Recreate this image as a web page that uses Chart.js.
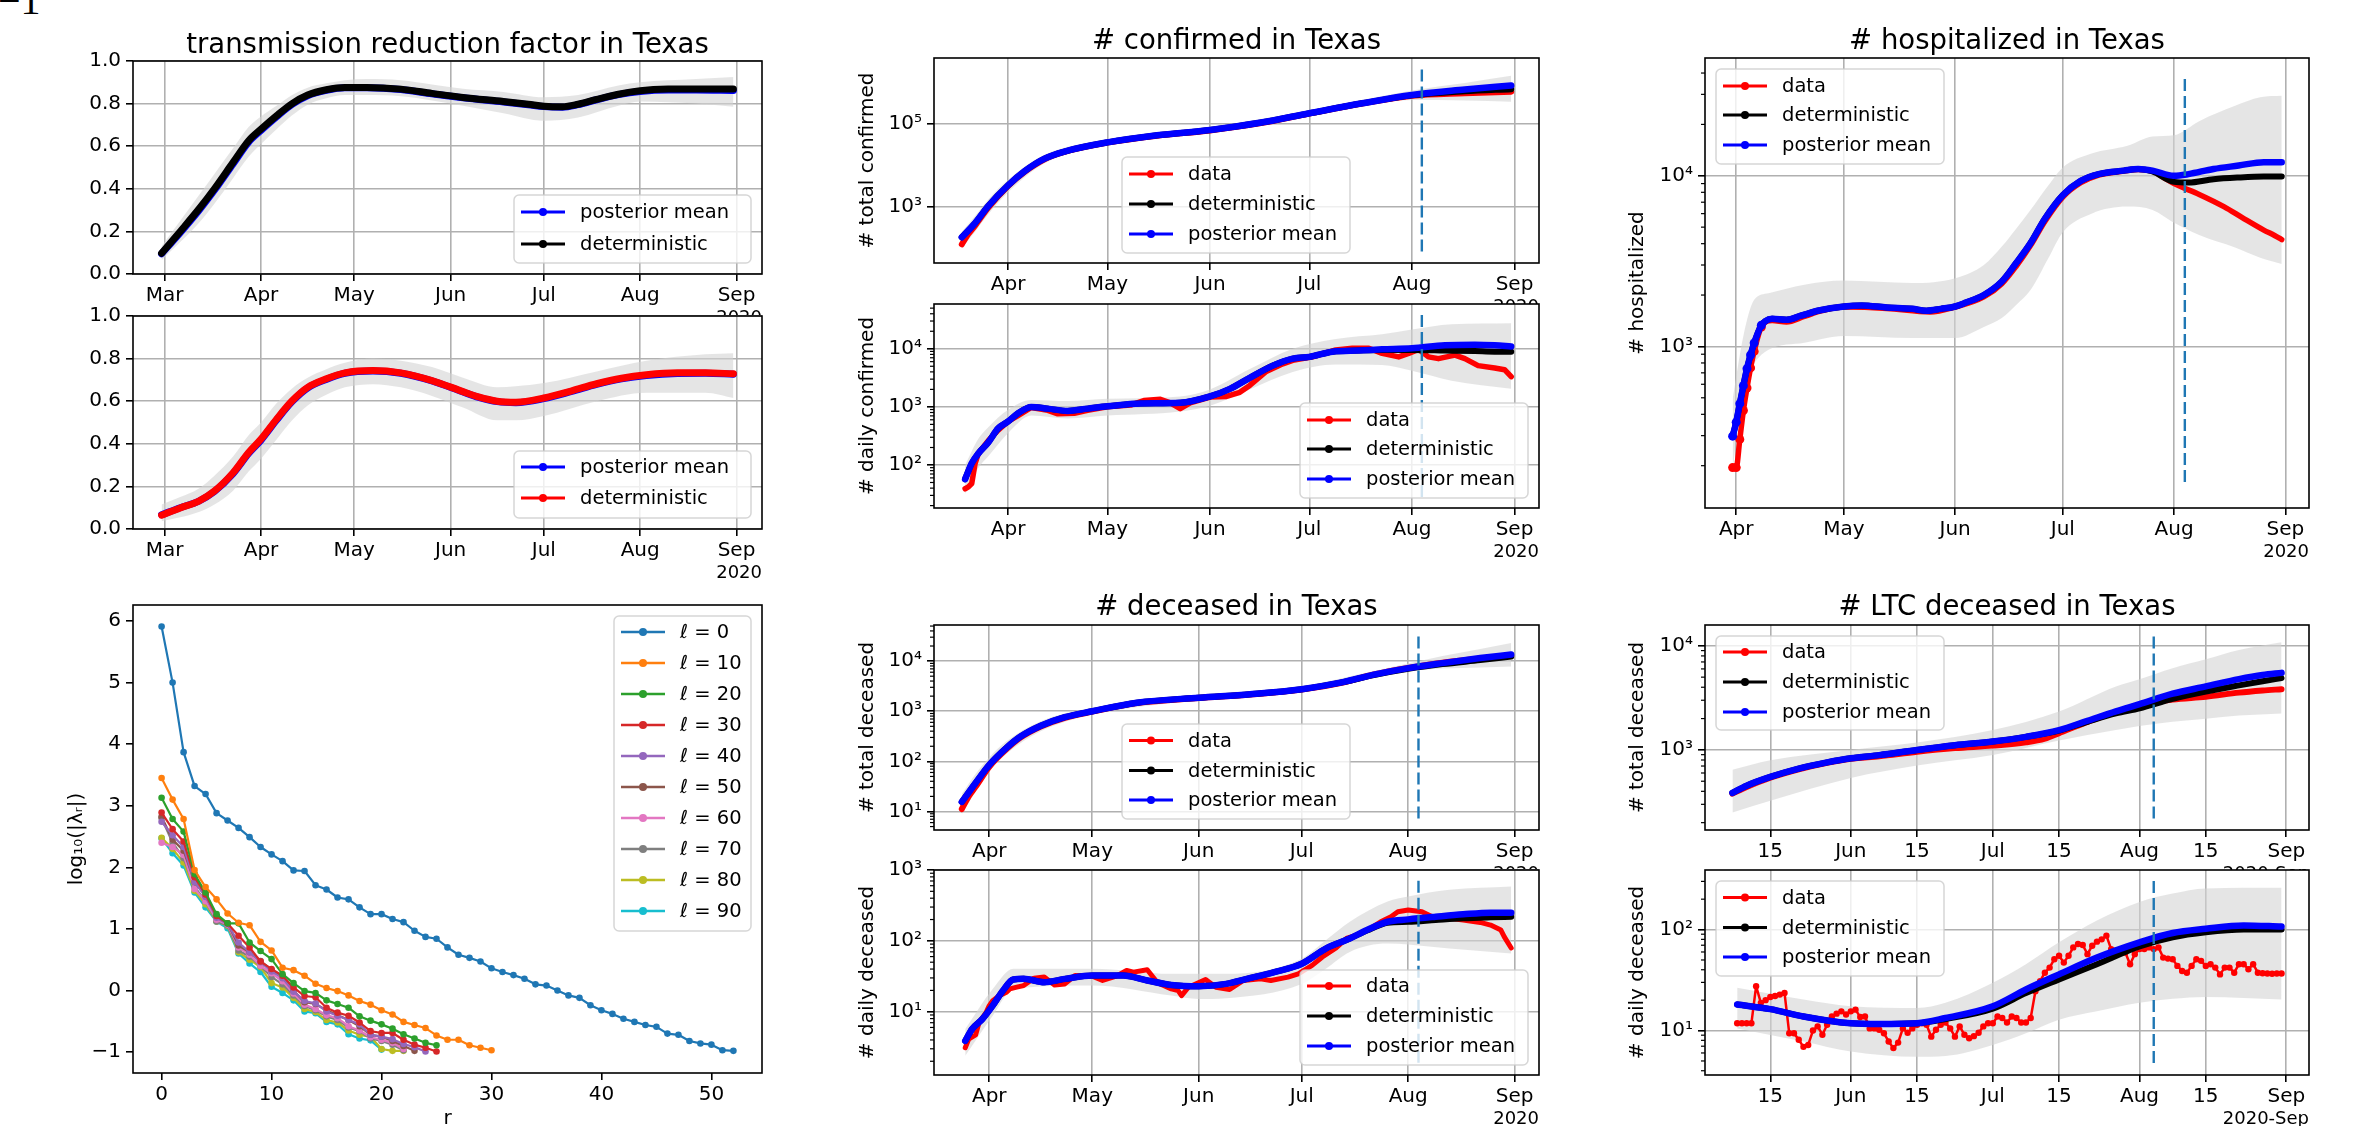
<!DOCTYPE html>
<html>
<head>
<meta charset="utf-8">
<script src="https://cdn.jsdelivr.net/npm/chart.js@4.4.1/dist/chart.umd.min.js"></script>
<style>
  body { margin: 0; background: #fff; width: 2356px; height: 1126px; overflow: hidden; position: relative; }
  canvas { position: absolute; }
  .eqno { position: absolute; left: -2px; top: -19px; font-family: "Liberation Serif", serif; font-size: 40px; line-height: 40px; }
</style>
</head>
<body>
<div class="eqno">−1</div>
<script>
// ---- transmission reduction factor (top) ----
const trfDays = [-1, 5, 11, 16, 22, 27, 31, 36, 41, 46, 52, 58, 65, 76, 86, 96, 109, 117, 122, 128, 133, 139, 146, 153, 162, 171, 183];
const trfDet  = [0.097, 0.20, 0.305, 0.40, 0.524, 0.626, 0.68, 0.743, 0.80, 0.84, 0.865, 0.876, 0.876, 0.868, 0.848, 0.829, 0.81, 0.797, 0.788, 0.785, 0.797, 0.82, 0.844, 0.86, 0.868, 0.869, 0.869];
const trfPost = [0.095, 0.194, 0.298, 0.393, 0.517, 0.619, 0.674, 0.738, 0.796, 0.837, 0.862, 0.874, 0.874, 0.866, 0.846, 0.827, 0.808, 0.795, 0.786, 0.783, 0.795, 0.818, 0.842, 0.857, 0.864, 0.864, 0.862];
const trfBandDays = [-1, 5, 11, 16, 22, 27, 31, 36, 41, 46, 52, 58, 65, 76, 86, 96, 109, 122, 133, 146, 153, 171, 183];
const trfHi = [0.13, 0.25, 0.37, 0.47, 0.59, 0.69, 0.74, 0.79, 0.84, 0.875, 0.895, 0.91, 0.915, 0.91, 0.89, 0.87, 0.855, 0.83, 0.84, 0.885, 0.90, 0.915, 0.925];
const trfLo = [0.065, 0.15, 0.24, 0.33, 0.45, 0.55, 0.61, 0.68, 0.745, 0.795, 0.825, 0.84, 0.84, 0.835, 0.815, 0.79, 0.755, 0.72, 0.735, 0.79, 0.81, 0.80, 0.785];

// ---- transmission reduction factor (bottom) ----
const trf2Days = [-1, 5, 11, 16, 22, 27, 31, 36, 41, 46, 52, 58, 67, 76, 86, 96, 101, 107, 113, 122, 131, 139, 147, 155, 165, 174, 183];
const trf2Det  = [0.065, 0.099, 0.131, 0.178, 0.264, 0.359, 0.422, 0.516, 0.602, 0.665, 0.705, 0.733, 0.744, 0.733, 0.697, 0.645, 0.62, 0.60, 0.595, 0.615, 0.649, 0.682, 0.708, 0.724, 0.733, 0.733, 0.729];
const trf2Post = [0.067, 0.10, 0.131, 0.176, 0.26, 0.354, 0.417, 0.511, 0.598, 0.662, 0.702, 0.731, 0.742, 0.731, 0.695, 0.643, 0.618, 0.598, 0.593, 0.612, 0.646, 0.679, 0.705, 0.721, 0.73, 0.731, 0.727];
const trf2BandDays = [-1, 5, 11, 16, 22, 27, 31, 36, 41, 46, 52, 58, 67, 76, 86, 96, 107, 113, 122, 139, 155, 174, 183];
const trf2Hi = [0.115, 0.15, 0.19, 0.25, 0.34, 0.44, 0.50, 0.59, 0.66, 0.71, 0.75, 0.78, 0.80, 0.79, 0.76, 0.71, 0.665, 0.67, 0.685, 0.74, 0.79, 0.82, 0.825];
const trf2Lo = [0.036, 0.055, 0.08, 0.115, 0.18, 0.27, 0.33, 0.42, 0.51, 0.58, 0.63, 0.665, 0.68, 0.665, 0.625, 0.57, 0.51, 0.51, 0.53, 0.60, 0.64, 0.64, 0.615];

// ---- eigenvalue decay, log10(|lambda_r|) for r = 0, 1, 2, ... ----
const eigLabels = ['ℓ = 0', 'ℓ = 10', 'ℓ = 20', 'ℓ = 30', 'ℓ = 40', 'ℓ = 50', 'ℓ = 60', 'ℓ = 70', 'ℓ = 80', 'ℓ = 90'];
const eig0  = [5.91, 5.0, 3.87, 3.32, 3.19, 2.88, 2.76, 2.64, 2.49, 2.33, 2.21, 2.10, 1.95, 1.94, 1.71, 1.64, 1.51, 1.48, 1.35, 1.24, 1.24, 1.16, 1.11, 0.97, 0.87, 0.84, 0.70, 0.58, 0.53, 0.47, 0.36, 0.30, 0.25, 0.19, 0.10, 0.08, 0.00, -0.08, -0.12, -0.24, -0.32, -0.38, -0.46, -0.51, -0.56, -0.59, -0.70, -0.72, -0.82, -0.86, -0.88, -0.97, -0.98];
const eig10 = [3.45, 3.10, 2.785, 1.955, 1.68, 1.48, 1.25, 1.10, 1.06, 0.79, 0.65, 0.37, 0.33, 0.24, 0.11, 0.04, -0.01, -0.08, -0.17, -0.23, -0.32, -0.39, -0.51, -0.56, -0.61, -0.73, -0.80, -0.80, -0.89, -0.93, -0.97];
const eig20 = [3.13, 2.785, 2.58, 1.89, 1.59, 1.24, 1.09, 1.09, 0.78, 0.64, 0.51, 0.265, 0.12, -0.01, -0.04, -0.16, -0.22, -0.28, -0.42, -0.49, -0.55, -0.62, -0.71, -0.78, -0.85, -0.89];
const eig30 = [2.89, 2.62, 2.42, 1.84, 1.56, 1.21, 1.09, 0.89, 0.70, 0.47, 0.35, 0.24, 0.05, -0.09, -0.11, -0.28, -0.36, -0.41, -0.52, -0.66, -0.69, -0.69, -0.80, -0.88, -0.93, -0.99];
const eig40 = [2.74, 2.52, 2.33, 1.76, 1.52, 1.18, 1.08, 0.78, 0.62, 0.46, 0.31, 0.20, -0.02, -0.17, -0.21, -0.34, -0.41, -0.48, -0.55, -0.72, -0.75, -0.79, -0.87, -0.92, -0.99];
const eig50 = [2.82, 2.45, 2.27, 1.76, 1.54, 1.20, 1.09, 0.73, 0.62, 0.48, 0.33, 0.22, 0.00, -0.19, -0.22, -0.32, -0.40, -0.48, -0.58, -0.72, -0.75, -0.82, -0.90, -0.98];
const eig60 = [2.40, 2.33, 2.20, 1.65, 1.45, 1.15, 1.07, 0.70, 0.58, 0.40, 0.28, 0.15, -0.05, -0.23, -0.30, -0.40, -0.45, -0.58, -0.65, -0.76, -0.80, -0.85, -0.95];
const eig70 = [2.80, 2.40, 2.15, 1.68, 1.45, 1.12, 1.06, 0.65, 0.55, 0.40, 0.22, 0.10, -0.08, -0.25, -0.32, -0.42, -0.48, -0.60, -0.66, -0.78, -0.82, -0.88, -0.97];
const eig80 = [2.48, 2.30, 2.08, 1.62, 1.40, 1.12, 1.05, 0.62, 0.50, 0.38, 0.12, 0.05, -0.12, -0.30, -0.35, -0.48, -0.52, -0.65, -0.72, -0.75, -0.95, -0.98, -0.98];
const eig90 = [2.47, 2.23, 2.03, 1.59, 1.35, 1.12, 1.01, 0.60, 0.44, 0.30, 0.06, -0.04, -0.16, -0.34, -0.37, -0.51, -0.55, -0.71, -0.78, -0.81, -0.96];
const eigColors = ['#1f77b4', '#ff7f0e', '#2ca02c', '#d62728', '#9467bd', '#8c564b', '#e377c2', '#7f7f7f', '#bcbd22', '#17becf'];

// ---- total confirmed ----
const confDays = [17, 21, 25, 31, 36, 42, 48, 61, 76, 92, 107, 122, 138, 153, 169, 183];
const confPost = [186, 407, 1050, 3310, 7240, 14450, 21400, 35500, 52500, 70800, 105000, 178000, 309000, 490000, 661000, 832000];
const confDet  = [186, 407, 1050, 3310, 7240, 14450, 21400, 35500, 52500, 70800, 105000, 178000, 309000, 480000, 600000, 676000];
const confDataDays = [17, 19, 21, 25, 31, 36, 42, 48, 61, 76, 92, 107, 122, 138, 153, 169, 183];
const confData = [126, 224, 355, 960, 3200, 7000, 14000, 21000, 35000, 51500, 69000, 102000, 175000, 305000, 470000, 540000, 589000];
const confBandDays = [17, 21, 25, 31, 42, 61, 92, 122, 153, 169, 183];
const confHi = [251, 603, 1510, 4470, 17800, 41700, 83200, 209000, 631000, 955000, 1413000];
const confLo = [100, 251, 661, 2240, 11200, 29500, 60300, 148000, 372000, 363000, 339000];

// ---- daily confirmed ----
const dcDays = [18, 19, 20, 22, 25, 28, 31, 34, 38, 43, 49, 55, 61, 71, 83, 92, 98, 104, 111, 117, 122, 129, 137, 144, 153, 163, 172, 178, 183];
const dcPost = [57, 79, 107, 158, 245, 427, 562, 776, 1000, 933, 851, 933, 1023, 1148, 1175, 1514, 2042, 3162, 5129, 6761, 7244, 8913, 9333, 9772, 10230, 11480, 11750, 11480, 10960];
const dcDet  = [57, 79, 107, 158, 245, 427, 562, 776, 1000, 933, 851, 933, 1023, 1148, 1175, 1514, 2042, 3162, 5129, 6761, 7244, 8913, 9333, 9550, 9550, 9330, 9120, 8910, 8910];
const dcDataDays = [18, 19, 20, 21, 22, 25, 28, 31, 34, 38, 43, 46, 51, 55, 61, 68, 72, 77, 80, 83, 86, 92, 97, 101, 104, 109, 114, 117, 123, 130, 135, 140, 144, 149, 152, 155, 158, 161, 166, 169, 173, 178, 181, 183];
const dcData = [39, 42, 48, 105, 158, 263, 398, 562, 708, 977, 871, 759, 776, 871, 1000, 1072, 1288, 1349, 1175, 933, 1175, 1479, 1514, 1778, 2344, 4074, 5495, 6310, 7244, 9550, 10230, 10230, 8318, 7244, 8318, 9772, 7244, 6761, 7762, 6761, 5129, 4677, 4365, 3311];
const dcBandDays = [18, 22, 25, 31, 38, 49, 61, 83, 92, 104, 117, 130, 144, 153, 165, 183];
const dcHi = [100, 282, 447, 891, 1318, 1259, 1380, 1514, 1995, 4467, 10000, 14790, 17780, 21380, 26300, 27540];
const dcLo = [32, 89, 141, 355, 708, 631, 708, 832, 1047, 1995, 3981, 5370, 5248, 4169, 2818, 2042];

// ---- total deceased ----
const decDays = [23, 27, 31, 36, 40, 46, 53, 61, 74, 92, 107, 122, 134, 143, 153, 163, 174, 183];
const decPost = [15.5, 37, 85, 186, 309, 513, 759, 1000, 1479, 1862, 2188, 2754, 3802, 5370, 7244, 9120, 11480, 13490];
const decDet  = [15.5, 37, 85, 186, 309, 513, 759, 1000, 1479, 1862, 2188, 2754, 3802, 5250, 7000, 8710, 10470, 12300];
const decDataDays = [23, 25, 27, 31, 36, 40, 46, 53, 61, 74, 92, 107, 122, 134, 143, 153, 163, 174, 183];
const decData = [11.2, 20, 31, 78, 175, 295, 495, 740, 980, 1450, 1830, 2150, 2700, 3750, 5400, 7300, 9330, 11220, 12880];
const decBandDays = [23, 27, 31, 36, 46, 61, 92, 122, 143, 153, 163, 174, 183];
const decHi = [22.4, 56.2, 120, 251, 631, 1175, 2138, 3162, 6310, 8913, 12590, 17380, 22910];
const decLo = [8.9, 25.1, 63.1, 141, 398, 851, 1660, 2399, 4677, 6310, 7079, 7413, 7762];

// ---- daily deceased ----
const ddDays = [24, 26, 29, 32, 35, 38, 41, 47, 53, 61, 70, 77, 84, 92, 100, 106, 114, 122, 129, 136, 141, 147, 153, 161, 169, 177, 183];
const ddPost = [3.87, 5.7, 7.9, 12.2, 19.9, 28.5, 29.1, 26.1, 29.1, 32.5, 32.5, 27.6, 23.9, 22.9, 24.7, 29.1, 36.2, 47.6, 77.8, 108, 142, 186, 201, 219, 237, 250, 250];
const ddDet  = [3.87, 5.7, 7.9, 12.2, 19.9, 28.5, 29.1, 26.1, 29.1, 32.5, 32.5, 27.6, 23.9, 22.9, 24.7, 29.1, 36.2, 47.6, 77.8, 108, 140, 180, 186, 197, 208, 215, 219];
const ddDataDays = [24, 25, 27, 28, 30, 31, 32, 34, 36, 37, 39, 41, 44, 47, 50, 53, 56, 61, 64, 68, 71, 73, 77, 80, 84, 86, 87, 89, 94, 97, 101, 105, 110, 113, 118, 121, 125, 128, 132, 135, 138, 142, 145, 148, 150, 153, 157, 160, 165, 169, 174, 177, 180, 181, 183];
const ddData = [3.1, 4.1, 4.7, 7.0, 9.6, 12.2, 14.3, 16.9, 18.8, 21, 22.2, 23.4, 29.8, 30.8, 23.9, 24.7, 32.5, 31.8, 27.6, 31.8, 38.3, 36.2, 39.1, 25.6, 21, 19.9, 16.9, 22.2, 28.5, 22.2, 20.6, 27.6, 29.1, 27.6, 30.8, 34.3, 45.1, 59.3, 79.4, 108, 120, 150, 186, 219, 258, 273, 258, 219, 208, 197, 182, 167, 142, 114, 79.4];
const ddBandDays = [24, 32, 38, 61, 84, 92, 100, 122, 129, 136, 147, 153, 165, 183];
const ddHi = [5.7, 21, 40.5, 40.5, 34.3, 34.3, 34.3, 56.1, 102, 186, 359, 423, 525, 586];
const ddLo = [2.4, 8.8, 21, 23.4, 16.9, 15.1, 15.5, 24.7, 40.5, 69.8, 91.6, 88.8, 77.8, 66.1];

// ---- hospitalized ----
const hospDays = [30, 31, 32, 33, 34, 35, 36, 38, 39, 41, 45, 49, 54, 61, 66, 73, 80, 84, 88, 92, 95, 100, 105, 109, 113, 117, 122, 127, 132, 139, 143, 147, 153, 157, 164, 171, 178, 183];
const hospPost = [298, 360, 462, 589, 741, 891, 1047, 1330, 1400, 1452, 1432, 1513, 1623, 1714, 1738, 1690, 1660, 1618, 1660, 1714, 1807, 2000, 2400, 3080, 4030, 5600, 7700, 9333, 10230, 10720, 10960, 10720, 10000, 10230, 10960, 11480, 12020, 12020];
const hospDet  = [298, 360, 462, 589, 741, 891, 1047, 1330, 1400, 1452, 1432, 1513, 1623, 1714, 1738, 1690, 1660, 1618, 1660, 1714, 1807, 2000, 2400, 3080, 4030, 5600, 7700, 9333, 10230, 10720, 10960, 10600, 9210, 9120, 9550, 9770, 9890, 9890];
const hospDataDays = [30, 31, 32, 33, 34, 35, 36, 38, 41, 45, 50, 55, 61, 73, 85, 92, 100, 105, 109, 113, 117, 122, 127, 132, 139, 143, 147, 150, 153, 160, 167, 172, 178, 181, 183];
const hospData = [195, 195, 285, 421, 571, 748, 935, 1300, 1420, 1390, 1500, 1620, 1700, 1670, 1590, 1700, 1950, 2330, 2950, 3900, 5400, 7500, 9100, 10100, 10650, 10900, 10650, 9800, 8990, 7780, 6577, 5690, 4808, 4467, 4227];
const hospBandDays = [30, 33, 36, 40, 50, 61, 80, 92, 100, 105, 109, 113, 118, 122, 130, 140, 147, 153, 160, 170, 177, 183];
const hospHi = [490, 1150, 1875, 2050, 2300, 2430, 2350, 2510, 3000, 3850, 4900, 6300, 8800, 11200, 13500, 15000, 17000, 17300, 20900, 25700, 28840, 29400];
const hospLo = [182, 616, 800, 955, 1050, 1150, 1120, 1120, 1300, 1466, 1750, 2140, 3300, 4670, 6000, 6600, 6300, 5300, 4500, 3800, 3311, 3040];

// ---- LTC total deceased ----
const ltcDays = [67, 70, 75, 81, 87, 92, 98, 106, 114, 122, 129, 136, 142, 148, 153, 160, 167, 174, 179, 183];
const ltcPost = [386, 453, 550, 661, 759, 832, 891, 1000, 1109, 1202, 1334, 1549, 1905, 2344, 2754, 3467, 4074, 4786, 5248, 5495];
const ltcDet  = [386, 453, 550, 661, 759, 832, 891, 1000, 1109, 1202, 1334, 1530, 1862, 2239, 2512, 3090, 3631, 4169, 4571, 4900];
const ltcDataDays = [67, 70, 75, 81, 87, 92, 98, 106, 114, 122, 129, 133, 136, 142, 148, 153, 160, 167, 174, 179, 183];
const ltcData = [380, 440, 540, 650, 750, 820, 870, 960, 1040, 1100, 1183, 1282, 1450, 1860, 2300, 2700, 3050, 3240, 3550, 3720, 3830];
const ltcBandDays = [67, 75, 92, 106, 122, 136, 148, 153, 160, 167, 174, 183];
const ltcHi = [646, 794, 1000, 1175, 1549, 2344, 4074, 4786, 6095, 7413, 9120, 10840];
const ltcLo = [251, 324, 537, 708, 891, 1230, 1549, 1698, 1862, 1995, 2138, 2239];

// ---- LTC daily deceased ----
const ltcdDays = [68, 75, 82, 92, 98, 106, 112, 122, 129, 136, 144, 153, 160, 167, 175, 183];
const ltcdPost = [18.1, 16.3, 13.8, 11.8, 11.6, 11.8, 13.3, 17.4, 25.5, 36, 52.8, 74.7, 92.6, 102, 110, 107];
const ltcdDet  = [18.1, 16.3, 13.8, 11.8, 11.6, 11.8, 13.0, 16.5, 23.5, 32.1, 45.4, 68.1, 83.8, 94, 100, 100];
const ltcdDataStart = 68; // one value per day from here
const ltcdData = [11.8, 11.8, 11.8, 11.8, 27.5, 18.8, 20, 21.5, 22, 22.7,
  23.6, 9.4, 9.4, 8.1, 6.9, 7.2, 10, 11, 9.1, 11.4,
  13.8, 14.7, 15.5, 14.4, 15.5, 16.1, 13.6, 13.8, 10.5, 10.5,
  10.2, 9.4, 7.8, 6.7, 7.6, 10.5, 9.5, 10.5, 11.4, 11.8,
  11.4, 8.7, 10.2, 11.4, 12, 10.5, 8.7, 11, 9.1, 8.4,
  8.8, 9.5, 11, 11.8, 11.8, 13.8, 13.3, 12, 13.8, 13.3,
  12, 12, 13.3, 24.5, 30.9, 37.4, 42, 50.9, 55, 47.1,
  55, 66.6, 71.9, 70.3, 57.1, 69.2, 75.9, 80, 87.1, 64.1,
  62, 61.7, 59.3, 45.4, 57.1, 64.1, 64.1, 66.6, 64.1, 66.6,
  52.8, 51.6, 50.9, 43.7, 38.9, 37.4, 43.7, 50.9, 49, 43.7,
  45.4, 42, 36, 42, 42, 37.4, 45.4, 45.4, 40.5, 45.4,
  37.4, 36.9, 36.7, 36.5, 36.7, 36.7];
const ltcdBandDays = [68, 82, 92, 106, 112, 122, 129, 136, 144, 153, 160, 167, 183];
const ltcdHi = [26.5, 20.3, 17.4, 16.7, 18.8, 29.7, 45.4, 74.7, 123, 188, 227, 255, 259];
const ltcdLo = [10.5, 7.8, 6.2, 5.5, 5.6, 7.2, 9.4, 12.8, 15.5, 18.8, 20.6, 21.5, 20.3];

// forecast start marker (Aug 4)
const cutDay = 156;

// ---------------------------------------------------------------
const FONT = '"DejaVu Sans", sans-serif';
const GRID = '#b0b0b0';
const BAND = 'rgba(211,211,211,0.6)';
const RED = '#ff0000', BLACK = '#000000', BLUE = '#0000ff', VCOL = '#1f77b4';
const SUP = {1: '¹', 2: '²', 3: '³', 4: '⁴', 5: '⁵', 6: '⁶'};
const MONTHS = {0: 'Mar', 31: 'Apr', 61: 'May', 92: 'Jun', 122: 'Jul', 153: 'Aug', 184: 'Sep'};
const LTC_TICKS = {75: '15', 92: 'Jun', 106: '15', 122: 'Jul', 136: '15', 153: 'Aug', 167: '15', 184: 'Sep'};
const MONTH_TICKS = [31, 61, 92, 122, 153, 184];

function pow10Label(v) {
  const e = Math.round(Math.log10(v));
  return '10' + SUP[e];
}

function minorTicks(lo, hi) {
  // 2..9 x 10^k between the decades lo and hi
  const out = [];
  for (let k = lo; k <= hi; k++) for (let m = 2; m <= 9; m++) out.push(m * Math.pow(10, k));
  return out;
}

function ds(days, vals, color, width, order, extra) {
  return Object.assign({
    data: vals.map((v, i) => ({x: days[i], y: v})),
    borderColor: color, backgroundColor: color, borderWidth: width,
    pointRadius: 0, fill: false, order: order,
    cubicInterpolationMode: 'monotone',
    borderCapStyle: 'round', borderJoinStyle: 'round'
  }, extra || {});
}

function band(days, lo, hi) {
  return [
    ds(days, lo, 'rgba(0,0,0,0)', 0, 20),
    ds(days, hi, 'rgba(0,0,0,0)', 0, 20, {fill: '-1', backgroundColor: BAND})
  ];
}

function vline(top, bottom) {
  return ds([cutDay, cutDay], [top, bottom], VCOL, 2.4, 0,
    {borderDash: [12, 5], cubicInterpolationMode: 'default', tension: 0, borderCapStyle: 'butt'});
}

// dots only on the first n points (sparse early growth is drawn as separate markers)
function earlyDots(n, color) {
  return {pointRadius: c => (c.dataIndex < n ? 4.5 : 0), pointBorderWidth: 0, pointBackgroundColor: color};
}

function drawLegend(c, L, box) {
  const x0 = L.x0 - box.l, y0 = L.y0 - box.t, w = L.x1 - L.x0, h = L.y1 - L.y0;
  c.save();
  c.beginPath();
  c.roundRect(x0, y0, w, h, 5);
  c.fillStyle = 'rgba(255,255,255,0.8)';
  c.fill();
  c.strokeStyle = 'rgba(204,204,204,0.8)';
  c.lineWidth = 1.5;
  c.stroke();
  c.font = '19.5px ' + FONT;
  c.textBaseline = 'middle';
  c.textAlign = 'left';
  L.items.forEach((it, i) => {
    const y = L.rows[i] - box.t;
    c.strokeStyle = it[1];
    c.fillStyle = it[1];
    c.lineWidth = L.lw || 3;
    c.beginPath();
    c.moveTo(x0 + 7, y);
    c.lineTo(x0 + 51, y);
    c.stroke();
    c.beginPath();
    c.arc(x0 + 29, y, 4, 0, Math.PI * 2);
    c.fill();
    c.fillStyle = '#000';
    c.fillText(it[0], x0 + 66, y + 1);
  });
  c.restore();
}

function panel(p) {
  const box = {
    l: Math.max(0, p.plot.l - 120), t: Math.max(0, p.plot.t - 70),
    r: Math.min(2356, p.plot.r + 14), b: Math.min(1126, p.plot.b + 56)
  };
  const W = box.r - box.l, H = box.b - box.t;
  const cv = document.createElement('canvas');
  cv.width = W; cv.height = H;
  cv.style.left = box.l + 'px'; cv.style.top = box.t + 'px';
  cv.style.width = W + 'px'; cv.style.height = H + 'px';
  document.body.appendChild(cv);

  const deco = {
    id: 'deco',
    beforeDraw(ch) {
      const a = ch.chartArea, c = ch.ctx;
      c.save();
      c.fillStyle = '#fff';
      c.fillRect(a.left, a.top, a.right - a.left, a.bottom - a.top);
      c.restore();
    },
    afterDatasetsDraw(ch) {
      const a = ch.chartArea, c = ch.ctx;
      c.save();
      if (p.minor) {
        const ys = ch.scales.y;
        c.strokeStyle = '#000';
        c.lineWidth = 1.2;
        p.minor.forEach(v => {
          if (v <= ys.min || v >= ys.max) return;
          const y = ys.getPixelForValue(v);
          c.beginPath(); c.moveTo(a.left - 4, y); c.lineTo(a.left, y); c.stroke();
        });
      }
      c.strokeStyle = '#000';
      c.lineWidth = 1.6;
      c.strokeRect(a.left, a.top, a.right - a.left, a.bottom - a.top);
      c.restore();
      if (p.legend) drawLegend(c, p.legend, box);
    },
    afterDraw(ch) {
      const c = ch.ctx;
      c.save();
      c.fillStyle = '#000';
      if (p.title) {
        c.font = '27.5px ' + FONT;
        c.textAlign = 'center'; c.textBaseline = 'alphabetic';
        c.fillText(p.title, (p.plot.l + p.plot.r) / 2 - box.l, p.titleY - box.t);
      }
      if (p.offset) {
        c.font = '18px ' + FONT;
        c.textAlign = 'right'; c.textBaseline = 'alphabetic';
        c.fillText(p.offset, p.plot.r - box.l, p.plot.b + 49 - box.t);
      }
      if (p.xlabel) {
        c.font = '20px ' + FONT;
        c.textAlign = 'center'; c.textBaseline = 'alphabetic';
        c.fillText(p.xlabel, (p.plot.l + p.plot.r) / 2 - box.l, p.xlabelY - box.t);
      }
      if (p.ylabel) {
        c.font = '20px ' + FONT;
        c.translate(p.ylabelX - box.l, (p.plot.t + p.plot.b) / 2 - box.t);
        c.rotate(-Math.PI / 2);
        c.textAlign = 'center'; c.textBaseline = 'middle';
        c.fillText(p.ylabel, 0, 0);
      }
      c.restore();
    }
  };

  const showGrid = p.grid !== false;
  new Chart(cv, {
    type: 'line',
    data: {datasets: p.sets},
    options: {
      responsive: false,
      animation: false,
      events: [],
      layout: {autoPadding: false, padding: {top: p.plot.t - box.t, right: box.r - p.plot.r, left: 0, bottom: 0}},
      plugins: {legend: {display: false}, tooltip: {enabled: false}},
      scales: {
        x: {
          type: 'linear', min: p.xmin, max: p.xmax, bounds: 'data',
          afterBuildTicks: s => { s.ticks = p.xticks.map(v => ({value: v})); },
          afterFit: s => { s.height = box.b - p.plot.b; s.paddingLeft = 0; s.paddingRight = 0; },
          ticks: {autoSkip: false, maxRotation: 0, padding: 3, color: '#000',
                  font: {family: FONT, size: 20}, callback: v => p.xlab(v)},
          grid: {color: GRID, lineWidth: 1.6, drawOnChartArea: showGrid,
                 tickColor: '#000', tickLength: 7, tickWidth: 1.6},
          border: {display: false}
        },
        y: {
          type: p.log ? 'logarithmic' : 'linear', min: p.ymin, max: p.ymax, bounds: 'data',
          afterBuildTicks: s => { s.ticks = p.yticks.map(v => ({value: v})); },
          afterFit: s => { s.width = p.plot.l - box.l; s.paddingTop = 0; s.paddingBottom = 0; },
          ticks: {autoSkip: false, padding: 5, color: '#000',
                  font: {family: FONT, size: 20}, callback: v => p.ylab(v)},
          grid: {color: GRID, lineWidth: 1.6, drawOnChartArea: showGrid,
                 tickColor: '#000', tickLength: 7, tickWidth: 1.6},
          border: {display: false}
        }
      }
    },
    plugins: [deco]
  });
}

const monthLab = v => MONTHS[v] || '';
const threeItems = [['data', RED], ['deterministic', BLACK], ['posterior mean', BLUE]];

// transmission reduction factor, top
panel({
  plot: {l: 133, t: 61, r: 762, b: 274},
  xmin: -10.2, xmax: 192.2, xticks: [0, 31, 61, 92, 122, 153, 184], xlab: monthLab,
  ymin: 0, ymax: 1, yticks: [0, 0.2, 0.4, 0.6, 0.8, 1.0], ylab: v => v.toFixed(1),
  title: 'transmission reduction factor in Texas', titleY: 52.5, offset: '2020',
  legend: {x0: 514, y0: 195, x1: 751, y1: 263, rows: [212, 244], items: [['posterior mean', BLUE], ['deterministic', BLACK]]},
  sets: [
    ds(trfDays, trfDet, BLACK, 7, 1),
    ds(trfDays, trfPost, BLUE, 7, 2),
    ...band(trfBandDays, trfLo, trfHi)
  ]
});

// transmission reduction factor, bottom
panel({
  plot: {l: 133, t: 316, r: 762, b: 529},
  xmin: -10.2, xmax: 192.2, xticks: [0, 31, 61, 92, 122, 153, 184], xlab: monthLab,
  ymin: 0, ymax: 1, yticks: [0, 0.2, 0.4, 0.6, 0.8, 1.0], ylab: v => v.toFixed(1),
  offset: '2020',
  legend: {x0: 514, y0: 451, x1: 751, y1: 518, rows: [467, 498], items: [['posterior mean', BLUE], ['deterministic', RED]]},
  sets: [
    ds(trf2Days, trf2Det, RED, 7, 1),
    ds(trf2Days, trf2Post, BLUE, 7, 2),
    ...band(trf2BandDays, trf2Lo, trf2Hi)
  ]
});

// eigenvalue decay
const eigSeries = [eig0, eig10, eig20, eig30, eig40, eig50, eig60, eig70, eig80, eig90];
panel({
  plot: {l: 133, t: 605, r: 762, b: 1073},
  xmin: -2.6, xmax: 54.6, xticks: [0, 10, 20, 30, 40, 50], xlab: v => String(v),
  ymin: -1.34, ymax: 6.26, yticks: [-1, 0, 1, 2, 3, 4, 5, 6], ylab: v => (v < 0 ? '−' + Math.abs(v) : String(v)),
  grid: false, xlabel: 'r', xlabelY: 1124, ylabel: 'log₁₀(|λᵣ|)', ylabelX: 77,
  legend: {x0: 614, y0: 616, x1: 751, y1: 931, lw: 2.5,
           rows: [632, 663, 694, 725, 756, 787, 818, 849, 880, 911],
           items: eigLabels.map((t, i) => [t, eigColors[i]])},
  sets: eigSeries.map((s, k) => ds(s.map((v, r) => r), s, eigColors[k], 2.2, k,
    {pointRadius: 3.3, pointBorderWidth: 0, pointBackgroundColor: eigColors[k], cubicInterpolationMode: 'default', tension: 0}))
});

// total confirmed
panel({
  plot: {l: 934, t: 58, r: 1539, b: 263},
  xmin: 8.6, xmax: 191.4, xticks: MONTH_TICKS, xlab: monthLab,
  log: true, ymin: 44.7, ymax: 3.8e6, yticks: [1e3, 1e5], ylab: pow10Label,
  title: '# confirmed in Texas', titleY: 48.5, offset: '2020',
  ylabel: '# total confirmed', ylabelX: 868,
  legend: {x0: 1122, y0: 157, x1: 1350, y1: 253, rows: [174, 204, 234], items: threeItems},
  sets: [
    vline(2.0e6, 74),
    ds(confDays, confPost, BLUE, 6.5, 1),
    ds(confDays, confDet, BLACK, 6, 2),
    ds(confDataDays, confData, RED, 6, 3),
    ...band(confBandDays, confLo, confHi)
  ]
});

// daily confirmed
panel({
  plot: {l: 934, t: 304, r: 1539, b: 508},
  xmin: 8.6, xmax: 191.4, xticks: MONTH_TICKS, xlab: monthLab,
  log: true, ymin: 18.2, ymax: 58900, yticks: [1e2, 1e3, 1e4], ylab: pow10Label, minor: minorTicks(1, 4),
  offset: '2020', ylabel: '# daily confirmed', ylabelX: 868,
  legend: {x0: 1300, y0: 403, x1: 1528, y1: 498, rows: [420, 449, 479], items: threeItems},
  sets: [
    vline(38000, 25),
    ds(dcDays, dcPost, BLUE, 6.5, 1),
    ds(dcDays, dcDet, BLACK, 6, 2),
    ds(dcDataDays, dcData, RED, 5.5, 3, {cubicInterpolationMode: 'default', tension: 0}),
    ...band(dcBandDays, dcLo, dcHi)
  ]
});

// total deceased
panel({
  plot: {l: 934, t: 625, r: 1539, b: 830},
  xmin: 14.9, xmax: 191.1, xticks: MONTH_TICKS, xlab: monthLab,
  log: true, ymin: 4.27, ymax: 52500, yticks: [1e1, 1e2, 1e3, 1e4], ylab: pow10Label, minor: minorTicks(0, 4),
  title: '# deceased in Texas', titleY: 614.5, offset: '2020',
  ylabel: '# total deceased', ylabelX: 868,
  legend: {x0: 1122, y0: 724, x1: 1350, y1: 819, rows: [740.5, 770.5, 800], items: threeItems},
  sets: [
    vline(30900, 6.8),
    ds(decDays, decPost, BLUE, 6.5, 1),
    ds(decDays, decDet, BLACK, 6, 2),
    ds(decDataDays, decData, RED, 6, 3),
    ...band(decBandDays, decLo, decHi)
  ]
});

// daily deceased
panel({
  plot: {l: 934, t: 870, r: 1539, b: 1075},
  xmin: 14.9, xmax: 191.1, xticks: MONTH_TICKS, xlab: monthLab,
  log: true, ymin: 1.28, ymax: 1000, yticks: [1e1, 1e2, 1e3], ylab: pow10Label, minor: minorTicks(0, 2),
  offset: '2020', ylabel: '# daily deceased', ylabelX: 868,
  legend: {x0: 1300, y0: 970, x1: 1528, y1: 1065, rows: [986, 1016, 1046], items: threeItems},
  sets: [
    vline(705, 1.7),
    ds(ddDays, ddPost, BLUE, 6.5, 1),
    ds(ddDays, ddDet, BLACK, 6, 2),
    ds(ddDataDays, ddData, RED, 5, 3, {cubicInterpolationMode: 'default', tension: 0}),
    ...band(ddBandDays, ddLo, ddHi)
  ]
});

// hospitalized
panel({
  plot: {l: 1705, t: 58, r: 2309, b: 508},
  xmin: 22.3, xmax: 190.6, xticks: MONTH_TICKS, xlab: monthLab,
  log: true, ymin: 113, ymax: 49000, yticks: [1e3, 1e4], ylab: pow10Label, minor: minorTicks(2, 4),
  title: '# hospitalized in Texas', titleY: 48.5, offset: '2020',
  ylabel: '# hospitalized', ylabelX: 1638,
  legend: {x0: 1716, y0: 69, x1: 1944, y1: 164, rows: [86, 115, 145], items: threeItems},
  sets: [
    vline(36900, 151),
    ds(hospDays, hospPost, BLUE, 6.5, 1, earlyDots(8, BLUE)),
    ds(hospDays, hospDet, BLACK, 6, 2),
    ds(hospDataDays, hospData, RED, 5.5, 3, earlyDots(8, RED)),
    ...band(hospBandDays, hospLo, hospHi)
  ]
});

// LTC total deceased
const ltcLab = v => LTC_TICKS[v] || '';
const LTC_X = [75, 92, 106, 122, 136, 153, 167, 184];
panel({
  plot: {l: 1705, t: 625, r: 2309, b: 830},
  xmin: 61.2, xmax: 188.8, xticks: LTC_X, xlab: ltcLab,
  log: true, ymin: 170, ymax: 15850, yticks: [1e3, 1e4], ylab: pow10Label, minor: minorTicks(2, 3),
  title: '# LTC deceased in Texas', titleY: 614.5, offset: '2020-Sep',
  ylabel: '# total deceased', ylabelX: 1638,
  legend: {x0: 1716, y0: 636, x1: 1944, y1: 730, rows: [652, 682, 712], items: threeItems},
  sets: [
    vline(12300, 214),
    ds(ltcDays, ltcPost, BLUE, 6.5, 1),
    ds(ltcDays, ltcDet, BLACK, 6, 2),
    ds(ltcDataDays, ltcData, RED, 6, 3),
    ...band(ltcBandDays, ltcLo, ltcHi)
  ]
});

// LTC daily deceased
panel({
  plot: {l: 1705, t: 870, r: 2309, b: 1075},
  xmin: 61.2, xmax: 188.8, xticks: LTC_X, xlab: ltcLab,
  log: true, ymin: 3.63, ymax: 389, yticks: [1e1, 1e2], ylab: pow10Label, minor: minorTicks(0, 2),
  offset: '2020-Sep', ylabel: '# daily deceased', ylabelX: 1638,
  legend: {x0: 1716, y0: 881, x1: 1944, y1: 976, rows: [897.5, 927.5, 957], items: threeItems},
  sets: [
    vline(302, 4.4),
    ds(ltcdDays, ltcdPost, BLUE, 6.5, 1),
    ds(ltcdDays, ltcdDet, BLACK, 6, 2),
    ds(ltcdData.map((v, i) => ltcdDataStart + i), ltcdData, RED, 2.5, 3,
       {pointRadius: 3.2, pointBorderWidth: 0, pointBackgroundColor: RED, cubicInterpolationMode: 'default', tension: 0}),
    ...band(ltcdBandDays, ltcdLo, ltcdHi)
  ]
});
</script>
</body>
</html>
